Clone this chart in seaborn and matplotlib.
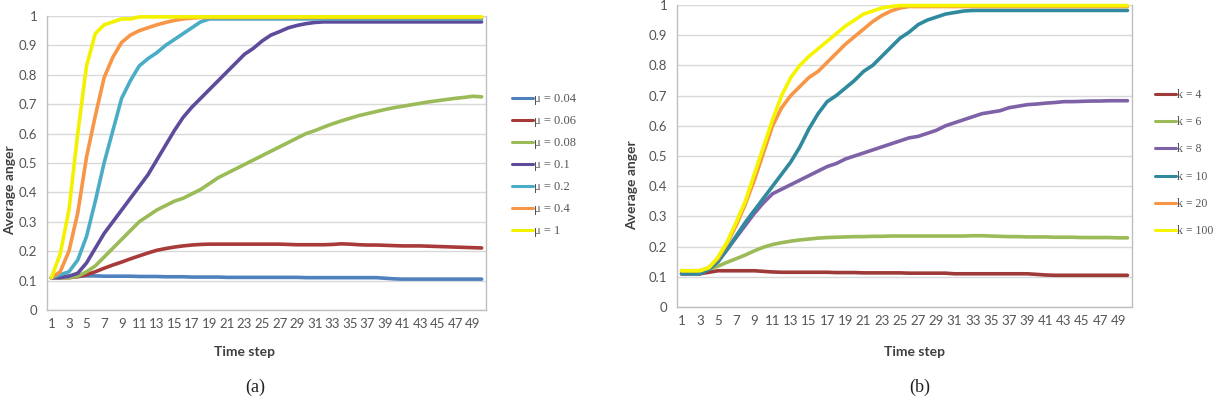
import numpy as np
import pandas as pd
import matplotlib
matplotlib.use("Agg")
import matplotlib.pyplot as plt
import seaborn as sns

# ---- data ----------------------------------------------------------------
steps = list(range(1, 51))

mu_labels = ["\u03bc = 0.04", "\u03bc = 0.06", "\u03bc = 0.08", "\u03bc = 0.1",
             "\u03bc = 0.2", "\u03bc = 0.4", "\u03bc = 1"]

mu_004 = [0.11, 0.113, 0.115, 0.115, 0.116, 0.116, 0.115, 0.115, 0.115, 0.115,
          0.114, 0.114, 0.114, 0.113, 0.113, 0.113, 0.112, 0.112, 0.112, 0.112,
          0.111, 0.111, 0.111, 0.111, 0.111, 0.111, 0.111, 0.111, 0.111, 0.11,
          0.11, 0.11, 0.11, 0.11, 0.11, 0.11, 0.11, 0.11, 0.108, 0.106,
          0.105, 0.105, 0.105, 0.105, 0.105, 0.105, 0.105, 0.105, 0.105, 0.105]
mu_006 = [0.11, 0.11, 0.11, 0.113, 0.12, 0.13, 0.142, 0.153, 0.163, 0.174,
          0.184, 0.194, 0.203, 0.209, 0.214, 0.218, 0.221, 0.223, 0.224, 0.224,
          0.224, 0.224, 0.224, 0.224, 0.224, 0.224, 0.224, 0.223, 0.222, 0.222,
          0.222, 0.222, 0.223, 0.225, 0.224, 0.222, 0.221, 0.221, 0.22, 0.219,
          0.218, 0.218, 0.218, 0.217, 0.216, 0.215, 0.214, 0.213, 0.212, 0.211]
mu_008 = [0.11, 0.11, 0.11, 0.115, 0.13, 0.15, 0.18, 0.21, 0.24, 0.27,
          0.30, 0.32, 0.34, 0.355, 0.37, 0.38, 0.395, 0.41, 0.43, 0.45,
          0.465, 0.48, 0.495, 0.51, 0.525, 0.54, 0.555, 0.57, 0.585, 0.60,
          0.61, 0.622, 0.633, 0.643, 0.652, 0.661, 0.668, 0.675, 0.682, 0.688,
          0.693, 0.698, 0.703, 0.708, 0.712, 0.716, 0.72, 0.723, 0.727, 0.725]
mu_01 = [0.11, 0.11, 0.115, 0.125, 0.16, 0.21, 0.26, 0.30, 0.34, 0.38,
         0.42, 0.46, 0.51, 0.56, 0.61, 0.655, 0.69, 0.72, 0.75, 0.78,
         0.81, 0.84, 0.87, 0.89, 0.915, 0.935, 0.947, 0.96, 0.968, 0.974,
         0.978, 0.98, 0.98, 0.98, 0.98, 0.98, 0.98, 0.98, 0.98, 0.98,
         0.98, 0.98, 0.98, 0.98, 0.98, 0.98, 0.98, 0.98, 0.98, 0.98]
mu_02 = [0.11, 0.12, 0.13, 0.17, 0.25, 0.37, 0.50, 0.61, 0.72, 0.78,
         0.83, 0.855, 0.875, 0.90, 0.92, 0.94, 0.96, 0.98, 0.99, 0.99,
         0.99, 0.99, 0.99, 0.99, 0.99, 0.99, 0.99, 0.99, 0.99, 0.99,
         0.99, 0.99, 0.99, 0.99, 0.99, 0.99, 0.99, 0.99, 0.99, 0.99,
         0.99, 0.99, 0.99, 0.99, 0.99, 0.99, 0.99, 0.99, 0.99, 0.99]
mu_04 = [0.11, 0.13, 0.20, 0.33, 0.52, 0.66, 0.79, 0.86, 0.91, 0.935,
         0.95, 0.96, 0.97, 0.978, 0.985, 0.99, 0.993, 0.995, 0.995, 0.995,
         0.995, 0.995, 0.995, 0.995, 0.995, 0.995, 0.995, 0.995, 0.995, 0.995,
         0.995, 0.995, 0.995, 0.995, 0.995, 0.995, 0.995, 0.995, 0.995, 0.995,
         0.995, 0.995, 0.995, 0.995, 0.995, 0.995, 0.995, 0.995, 0.995, 0.995]
mu_1 = [0.11, 0.19, 0.34, 0.60, 0.83, 0.94, 0.97, 0.98, 0.99, 0.99,
        0.997, 0.997, 0.997, 0.997, 0.997, 0.997, 0.997, 0.997, 0.997, 0.997,
        0.997, 0.997, 0.997, 0.997, 0.997, 0.997, 0.997, 0.997, 0.997, 0.997,
        0.997, 0.997, 0.997, 0.997, 0.997, 0.997, 0.997, 0.997, 0.997, 0.997,
        0.997, 0.997, 0.997, 0.997, 0.997, 0.997, 0.997, 0.997, 0.997, 0.997]

k_labels = ["k = 4", "k = 6", "k = 8", "k = 10", "k = 20", "k = 100"]

k_4 = [0.11, 0.11, 0.11, 0.115, 0.12, 0.12, 0.12, 0.12, 0.12, 0.118,
       0.116, 0.115, 0.115, 0.115, 0.115, 0.115, 0.115, 0.114, 0.114, 0.114,
       0.113, 0.113, 0.113, 0.113, 0.113, 0.112, 0.112, 0.112, 0.112, 0.112,
       0.11, 0.11, 0.11, 0.11, 0.11, 0.11, 0.11, 0.11, 0.11, 0.108,
       0.106, 0.105, 0.105, 0.105, 0.105, 0.105, 0.105, 0.105, 0.105, 0.105]
k_6 = [0.12, 0.12, 0.12, 0.125, 0.135, 0.148, 0.16, 0.172, 0.186, 0.198,
       0.207, 0.213, 0.218, 0.222, 0.225, 0.228, 0.23, 0.231, 0.232, 0.233,
       0.233, 0.234, 0.234, 0.235, 0.235, 0.235, 0.235, 0.235, 0.235, 0.235,
       0.235, 0.235, 0.236, 0.236, 0.235, 0.234, 0.233, 0.233, 0.232, 0.232,
       0.232, 0.231, 0.231, 0.231, 0.23, 0.23, 0.23, 0.23, 0.229, 0.229]
k_8 = [0.11, 0.11, 0.11, 0.125, 0.15, 0.19, 0.23, 0.27, 0.31, 0.345,
       0.375, 0.39, 0.405, 0.42, 0.435, 0.45, 0.465, 0.475, 0.49, 0.50,
       0.51, 0.52, 0.53, 0.54, 0.55, 0.56, 0.565, 0.575, 0.585, 0.60,
       0.61, 0.62, 0.63, 0.64, 0.645, 0.65, 0.66, 0.665, 0.67, 0.672,
       0.675, 0.677, 0.68, 0.68, 0.681, 0.682, 0.682, 0.683, 0.683, 0.683]
k_10 = [0.11, 0.11, 0.11, 0.125, 0.15, 0.19, 0.235, 0.28, 0.32, 0.36,
        0.40, 0.44, 0.48, 0.53, 0.59, 0.64, 0.68, 0.70, 0.725, 0.75,
        0.78, 0.80, 0.83, 0.86, 0.89, 0.91, 0.935, 0.95, 0.96, 0.97,
        0.975, 0.98, 0.982, 0.982, 0.982, 0.982, 0.982, 0.982, 0.982, 0.982,
        0.982, 0.982, 0.982, 0.982, 0.982, 0.982, 0.982, 0.982, 0.982, 0.982]
k_20 = [0.12, 0.12, 0.12, 0.13, 0.16, 0.21, 0.27, 0.34, 0.42, 0.51,
        0.60, 0.66, 0.70, 0.73, 0.76, 0.78, 0.81, 0.84, 0.87, 0.895,
        0.92, 0.945, 0.965, 0.98, 0.99, 0.995, 0.995, 0.995, 0.995, 0.995,
        0.995, 0.995, 0.995, 0.995, 0.995, 0.995, 0.995, 0.995, 0.995, 0.995,
        0.995, 0.995, 0.995, 0.995, 0.995, 0.995, 0.995, 0.995, 0.995, 0.995]
k_100 = [0.12, 0.12, 0.12, 0.13, 0.165, 0.215, 0.28, 0.35, 0.44, 0.53,
         0.62, 0.70, 0.76, 0.80, 0.83, 0.855, 0.88, 0.905, 0.93, 0.95,
         0.97, 0.98, 0.99, 0.995, 0.998, 0.998, 0.998, 0.998, 0.998, 0.998,
         0.998, 0.998, 0.998, 0.998, 0.998, 0.998, 0.998, 0.998, 0.998, 0.998,
         0.998, 0.998, 0.998, 0.998, 0.998, 0.998, 0.998, 0.998, 0.998, 0.998]

mu_colors = ["#4F81BD", "#A83A3A", "#9BBB59", "#5E4B9C", "#4BACC6", "#F79646", "#F2F200"]
k_colors = ["#9E3A38", "#9BBB59", "#7E62A8", "#2F8A9E", "#F79646", "#F5F500"]

# ---- long form tables -----------------------------------------------------
df_a = pd.DataFrame({
    "step": steps * 7,
    "anger": mu_004 + mu_006 + mu_008 + mu_01 + mu_02 + mu_04 + mu_1,
    "series": [lab for lab in mu_labels for _ in steps],
})
df_b = pd.DataFrame({
    "step": steps * 6,
    "anger": k_4 + k_6 + k_8 + k_10 + k_20 + k_100,
    "series": [lab for lab in k_labels for _ in steps],
})

sns.set_style("white")
plt.rcParams["font.family"] = ["Lato", "DejaVu Sans"]

fig = plt.figure(figsize=(12.17, 3.98), dpi=100)
W, H = 1217.0, 398.0
ax_a = fig.add_axes([47 / W, 1 - 310 / H, (486 - 47) / W, (310 - 16) / H])
ax_b = fig.add_axes([677 / W, 1 - 307 / H, (1132 - 677) / W, (307 - 5) / H])

label_grey = "#555555"


def style_axes(ax):
    ax.set_xlim(0.5, 50.5)
    ax.set_ylim(0, 1)
    ax.set_yticks(np.arange(0, 1.01, 0.1))
    ax.set_yticklabels(["0"] + ["%.1f" % v for v in np.arange(0.1, 0.95, 0.1)] + ["1"])
    ax.set_xticks(steps[::2])
    ax.set_xticklabels([str(s) for s in steps[::2]])
    ax.set_xticks(np.arange(0.5, 51, 1), minor=True)
    ax.grid(axis="y", color="#D9D9D9", lw=1.0)
    ax.set_axisbelow(True)
    for side in ["left", "bottom", "right"]:
        ax.spines[side].set_color("#BFBFBF")
        ax.spines[side].set_linewidth(1.0)
    ax.spines["top"].set_visible(False)
    ax.tick_params(axis="y", length=4, color="#BFBFBF", labelsize=9.5,
                   labelcolor=label_grey, pad=3)
    ax.tick_params(axis="x", which="major", length=0, labelsize=9.5,
                   labelcolor=label_grey, pad=6)
    ax.tick_params(axis="x", which="minor", length=3, color="#BFBFBF")
    ax.set_xlabel("")
    ax.set_ylabel("")


for ax, df, labels, colors in [(ax_a, df_a, mu_labels, mu_colors),
                               (ax_b, df_b, k_labels, k_colors)]:
    sns.lineplot(data=df, x="step", y="anger", hue="series", hue_order=labels,
                 palette=colors, lw=2.6, ax=ax, legend=False)
    for ln in ax.lines:
        ln.set_clip_on(False)
        ln.set_solid_capstyle("round")
    style_axes(ax)

# legends
handles_a = [plt.Line2D([], [], color=c, lw=2.2) for c in mu_colors]
ax_a.legend(handles_a, mu_labels, frameon=False, loc="upper left",
            prop={"family": "Liberation Serif", "size": 9},
            handlelength=1.7, handletextpad=0.1, labelcolor=label_grey,
            labelspacing=0.8, borderaxespad=0,
            bbox_to_anchor=((507 - 47) / 439.0, (310 - 88) / 294.0))
handles_b = [plt.Line2D([], [], color=c, lw=2.2) for c in k_colors]
ax_b.legend(handles_b, k_labels, frameon=False, loc="upper left",
            prop={"family": "Liberation Serif", "size": 8.5},
            handlelength=1.8, handletextpad=0.1, labelcolor=label_grey,
            labelspacing=1.3, borderaxespad=0,
            bbox_to_anchor=((1150 - 677) / 455.0, (307 - 84) / 302.0))

# axis titles and panel captions
bold = {"weight": "bold", "size": 10, "color": "#404040"}
fig.text(10 / W, 1 - 190 / H, "Average anger", rotation=90, ha="center", va="center", **bold)
fig.text(632 / W, 1 - 185 / H, "Average anger", rotation=90, ha="center", va="center", **bold)
fig.text(245 / W, 1 - 352 / H, "Time step", ha="center", va="center", **bold)
fig.text(915 / W, 1 - 352 / H, "Time step", ha="center", va="center", **bold)
fig.text(255 / W, 1 - 387 / H, "(a)", ha="center", va="center",
         family="Liberation Serif", size=13, color="#222222")
fig.text(920 / W, 1 - 387 / H, "(b)", ha="center", va="center",
         family="Liberation Serif", size=13, color="#222222")

fig.savefig("out.png", dpi=100)
